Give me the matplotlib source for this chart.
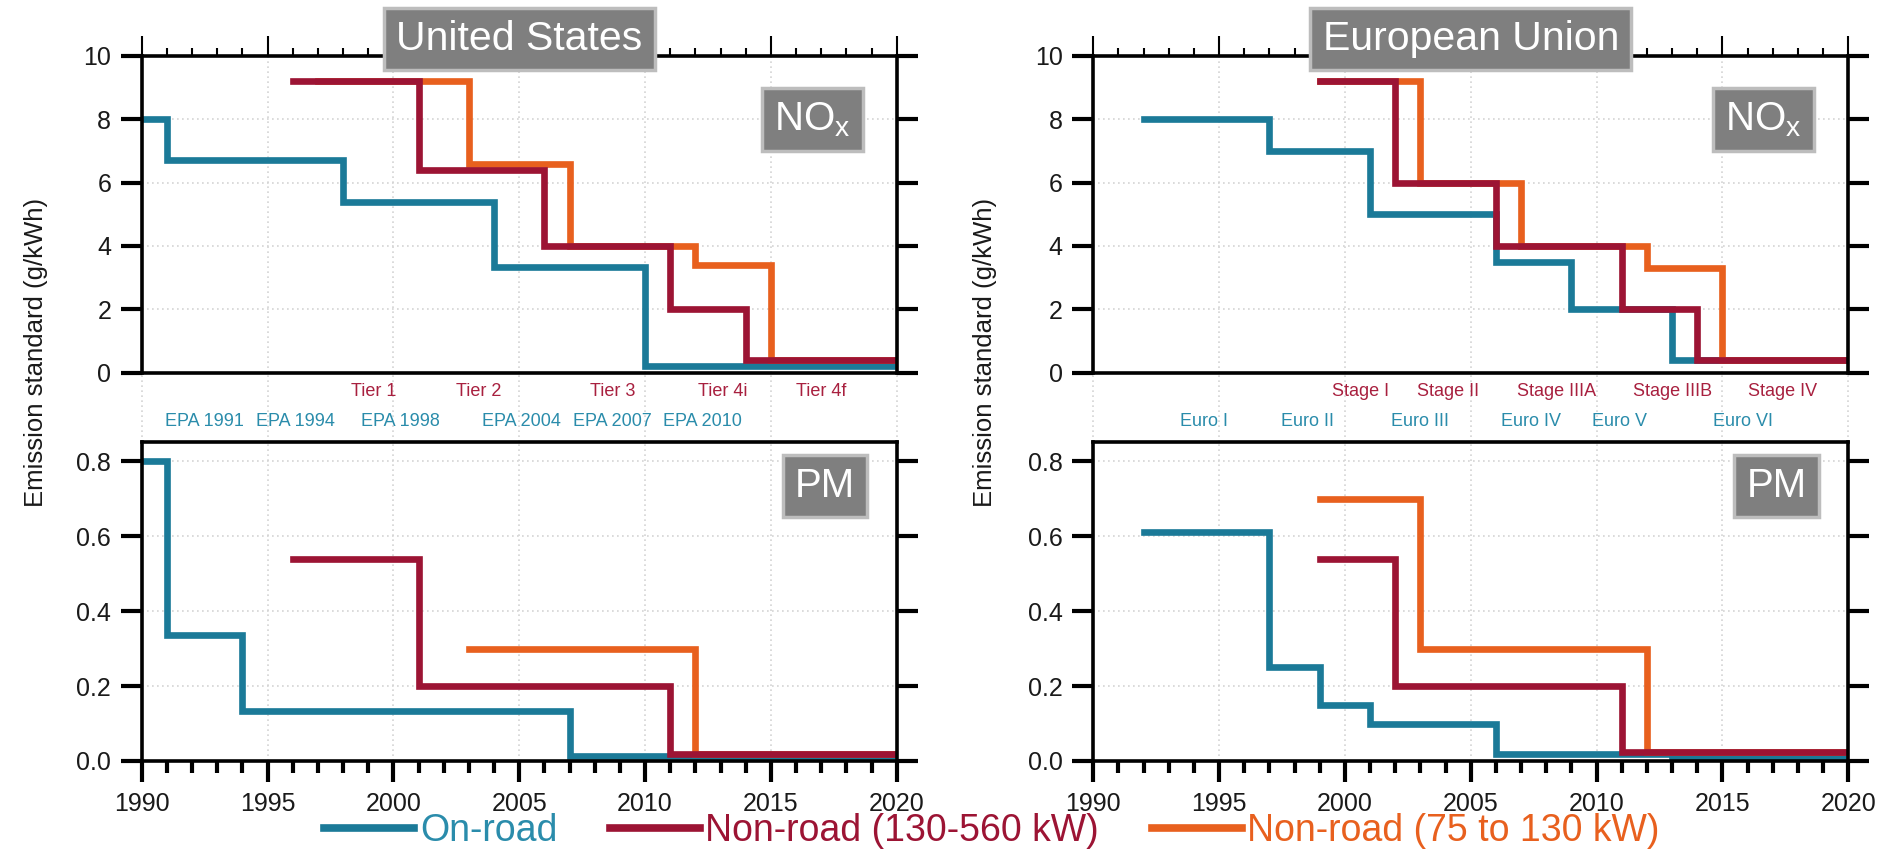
import matplotlib
matplotlib.use("Agg")
import matplotlib.pyplot as plt
import matplotlib.ticker as ticker
from matplotlib import font_manager

# --- data ---
us_onroad_nox_yr = [1990, 1991, 1998, 2004, 2010, 2020]
us_onroad_nox = [8.0, 6.7, 5.4, 3.35, 0.2, 0.2]
us_nrlarge_nox_yr = [1996, 2001, 2006, 2011, 2014, 2020]
us_nrlarge_nox = [9.2, 6.4, 4.0, 2.0, 0.4, 0.4]
us_nrmid_nox_yr = [1997, 2003, 2007, 2012, 2015, 2020]
us_nrmid_nox = [9.2, 6.6, 4.0, 3.4, 0.4, 0.4]

us_onroad_pm_yr = [1990, 1991, 1994, 2007, 2020]
us_onroad_pm = [0.8, 0.335, 0.134, 0.013, 0.013]
us_nrlarge_pm_yr = [1996, 2001, 2011, 2020]
us_nrlarge_pm = [0.54, 0.2, 0.02, 0.02]
us_nrmid_pm_yr = [2003, 2012, 2020]
us_nrmid_pm = [0.3, 0.02, 0.02]

eu_onroad_nox_yr = [1992, 1997, 2001, 2006, 2009, 2013, 2020]
eu_onroad_nox = [8.0, 7.0, 5.0, 3.5, 2.0, 0.4, 0.4]
eu_nrlarge_nox_yr = [1999, 2002, 2006, 2011, 2014, 2020]
eu_nrlarge_nox = [9.2, 6.0, 4.0, 2.0, 0.4, 0.4]
eu_nrmid_nox_yr = [1999, 2003, 2007, 2012, 2015, 2020]
eu_nrmid_nox = [9.2, 6.0, 4.0, 3.3, 0.4, 0.4]

eu_onroad_pm_yr = [1992, 1997, 1999, 2001, 2006, 2013, 2020]
eu_onroad_pm = [0.612, 0.25, 0.15, 0.1, 0.02, 0.01, 0.01]
eu_nrlarge_pm_yr = [1999, 2002, 2011, 2020]
eu_nrlarge_pm = [0.54, 0.2, 0.025, 0.025]
eu_nrmid_pm_yr = [1999, 2003, 2012, 2020]
eu_nrmid_pm = [0.7, 0.3, 0.025, 0.025]

us_nonroad_labels = ["Tier 1", "Tier 2", "Tier 3", "Tier 4i", "Tier 4f"]
us_nonroad_label_x = [1999.2, 2003.4, 2008.7, 2013.1, 2017.0]
us_onroad_labels = ["EPA 1991", "EPA 1994", "EPA 1998", "EPA 2004", "EPA 2007", "EPA 2010"]
us_onroad_label_x = [1992.5, 1996.1, 2000.3, 2005.1, 2008.7, 2012.3]
eu_nonroad_labels = ["Stage I", "Stage II", "Stage IIIA", "Stage IIIB", "Stage IV"]
eu_nonroad_label_x = [2000.6, 2004.1, 2008.4, 2013.0, 2017.4]
eu_onroad_labels = ["Euro I", "Euro II", "Euro III", "Euro IV", "Euro V", "Euro VI"]
eu_onroad_label_x = [1994.4, 1998.5, 2003.0, 2007.4, 2010.9, 2015.8]

series_names = ["On-road", "Non-road (130-560 kW)", "Non-road (75 to 130 kW)"]
TEAL = "#1b7a98"
RED = "#9c1434"
ORANGE = "#e8601e"
TEAL_TXT = "#2a8cab"
RED_TXT = "#a8203f"

names = {f.name for f in font_manager.fontManager.ttflist}
narrow = "Liberation Sans Narrow" if "Liberation Sans Narrow" in names else "Liberation Sans"
NARROW = narrow == "Liberation Sans Narrow"
plt.rcParams['font.family'] = [narrow, 'DejaVu Sans']
plt.rcParams['mathtext.default'] = 'regular'

tick_fs = 21.5 if NARROW else 18
lab_fs = 15.5 if NARROW else 13
leg_fs = 32 if NARROW else 27
ylab_fs = 22 if NARROW else 18.5

fig = plt.figure(figsize=(18.88, 8.59), dpi=100)

W = 755 / 1888
H_TOP = 316.8 / 859
H_BOT = 319.3 / 859
left_us = 141.7 / 1888
left_eu = 1093.3 / 1888
bot_top = 1 - 372.7 / 859
bot_bot = 1 - 761.0 / 859
gap = (441.7 - 372.7) / 316.8

def style_common(ax):
    for s in ax.spines.values():
        s.set_linewidth(2.6)
    ax.set_xlim(1990, 2020)
    ax.xaxis.set_major_locator(ticker.MultipleLocator(5))
    ax.xaxis.set_minor_locator(ticker.MultipleLocator(1))
    ax.tick_params(axis='y', which='major', left=True, right=True, labelleft=True,
                   labelright=False, direction='out', length=15, width=3,
                   labelsize=tick_fs, pad=7, labelcolor='#1a1a1a')
    ax.grid(True, which='major', linestyle=(0, (1, 2)), color='#d4d4d4', lw=1.2)
    ax.set_axisbelow(True)

def draw(ax, data):
    for (x, y), c in zip(data, [TEAL, ORANGE, RED]):
        ax.plot(x, y, drawstyle='steps-post', color=c, lw=4.8, solid_joinstyle='miter')

def box(ax, x, y, s, fs):
    ax.text(x, y, s, transform=ax.transAxes, ha='center', va='center', fontsize=fs,
            color='white', family=['Liberation Sans', 'DejaVu Sans'], zorder=10, clip_on=False,
            bbox=dict(boxstyle='square,pad=0.3', fc='#7f7f7f', ec='#bdbdbd', lw=2.5))

panels = [
    (left_us, "United States",
     [(us_onroad_nox_yr, us_onroad_nox), (us_nrmid_nox_yr, us_nrmid_nox), (us_nrlarge_nox_yr, us_nrlarge_nox)],
     [(us_onroad_pm_yr, us_onroad_pm), (us_nrmid_pm_yr, us_nrmid_pm), (us_nrlarge_pm_yr, us_nrlarge_pm)],
     us_nonroad_labels, us_nonroad_label_x, us_onroad_labels, us_onroad_label_x, 36),
    (left_eu, "European Union",
     [(eu_onroad_nox_yr, eu_onroad_nox), (eu_nrmid_nox_yr, eu_nrmid_nox), (eu_nrlarge_nox_yr, eu_nrlarge_nox)],
     [(eu_onroad_pm_yr, eu_onroad_pm), (eu_nrmid_pm_yr, eu_nrmid_pm), (eu_nrlarge_pm_yr, eu_nrlarge_pm)],
     eu_nonroad_labels, eu_nonroad_label_x, eu_onroad_labels, eu_onroad_label_x, 985),
]

handles = None
for left, title, nox, pm, nr_lab, nr_x, on_lab, on_x, ylab_x in panels:
    ax1 = fig.add_axes([left, bot_top, W, H_TOP])
    style_common(ax1)
    ax1.set_ylim(0, 10)
    ax1.yaxis.set_major_locator(ticker.MultipleLocator(2))
    ax1.xaxis.tick_top()
    ax1.tick_params(axis='x', which='major', top=True, bottom=False, labeltop=False,
                    labelbottom=False, direction='out', length=14.5, width=1.5)
    ax1.tick_params(axis='x', which='minor', top=True, bottom=False, direction='out',
                    length=6, width=1.5)
    draw(ax1, nox)
    # grid lines running through the gap between the panels
    for xv in ax1.get_xticks()[1:-1]:
        ax1.axvline(xv, ymin=-gap, ymax=0, clip_on=False, linestyle=(0, (1, 2)),
                    color='#d4d4d4', lw=1.2, zorder=0)
    box(ax1, 0.5, 1.053, title, 29.5)
    box(ax1, 0.888, 0.80, r'NO$_\mathregular{x}$', 29)
    for s, xv in zip(nr_lab, nr_x):
        ax1.text(xv, -0.058, s, transform=ax1.get_xaxis_transform(), ha='center',
                 va='center', fontsize=lab_fs, color=RED_TXT)
    for s, xv in zip(on_lab, on_x):
        ax1.text(xv, -0.155, s, transform=ax1.get_xaxis_transform(), ha='center',
                 va='center', fontsize=lab_fs, color=TEAL_TXT)

    ax2 = fig.add_axes([left, bot_bot, W, H_BOT])
    style_common(ax2)
    ax2.set_ylim(0, 0.852)
    ax2.yaxis.set_major_locator(ticker.MultipleLocator(0.2))
    ax2.yaxis.set_major_formatter(ticker.FormatStrFormatter('%.1f'))
    ax2.tick_params(axis='x', which='major', top=False, bottom=True, direction='out',
                    length=15, width=3, labelsize=tick_fs, pad=7, labelcolor='#1a1a1a')
    ax2.tick_params(axis='x', which='minor', top=False, bottom=True, direction='out',
                    length=8.5, width=3)
    draw(ax2, pm)
    box(ax2, 0.905, 0.86, 'PM', 29)
    if handles is None:
        handles = [ax2.lines[0], ax2.lines[2], ax2.lines[1]]

    fig.text(ylab_x / 1888, 1 - 352 / 859, "Emission standard (g/kWh)", rotation=90,
             ha='center', va='center', fontsize=ylab_fs, color='#1a1a1a')

leg = fig.legend(handles, series_names, loc='center', ncol=3, frameon=False,
                 bbox_to_anchor=(992 / 1888, 1 - 831 / 859), fontsize=leg_fs,
                 handlelength=2.4, handletextpad=0.15, columnspacing=1.4,
                 borderaxespad=0, borderpad=0)
for t, c in zip(leg.get_texts(), [TEAL_TXT, RED, ORANGE]):
    t.set_color(c)
for l in leg.get_lines():
    l.set_linewidth(5.5)

fig.savefig("out.png", dpi=100)
